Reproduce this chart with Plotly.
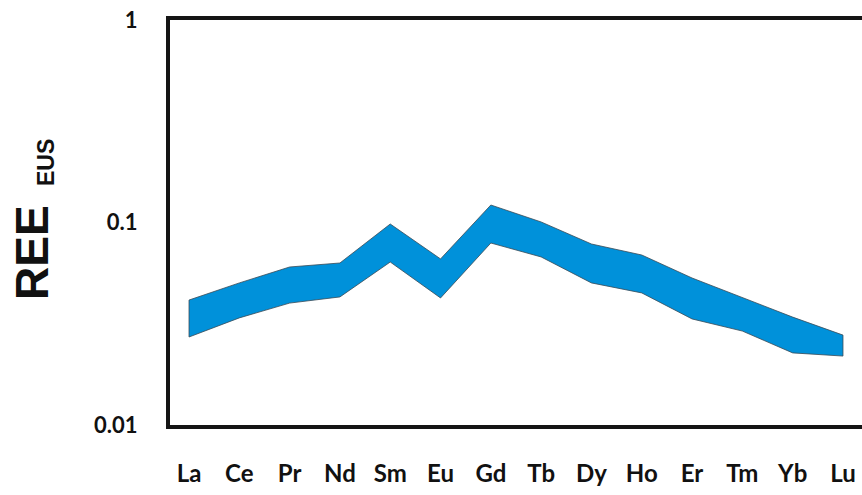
import plotly.graph_objects as go

# Rare earth elements, normalized values (upper and lower envelope of the field)
elements = ["La", "Ce", "Pr", "Nd", "Sm", "Eu", "Gd", "Tb", "Dy", "Ho", "Er", "Tm", "Yb", "Lu"]
upper = [0.0414, 0.0503, 0.0603, 0.0631, 0.0983, 0.0661, 0.122, 0.1006, 0.0783, 0.0691, 0.0532, 0.0424, 0.0341, 0.0278]
lower = [0.0272, 0.0338, 0.0400, 0.0429, 0.0638, 0.0424, 0.0792, 0.0676, 0.0503, 0.0449, 0.0334, 0.0291, 0.0227, 0.0219]
y_ticks = [0.01, 0.1, 1]
y_tick_text = ["0.01", "0.1", "1"]

idx = list(range(len(elements)))
poly_x = idx + idx[::-1] + [idx[0]]
poly_y = upper + lower[::-1] + [upper[0]]

fig = go.Figure()
fig.add_trace(go.Scatter(
    x=poly_x, y=poly_y, mode="lines", fill="toself",
    fillcolor="#0091da", line=dict(color="#3a4a55", width=0.8),
    hoverinfo="skip", showlegend=False,
))

L, R, T, B = 170, 0, 20, 70
W, H = 862, 495
fig.update_layout(
    width=W, height=H,
    margin=dict(l=L, r=R, t=T, b=B),
    plot_bgcolor="white", paper_bgcolor="white",
    showlegend=False,
    font=dict(family="Lato", color="#111111"),
)
fig.update_xaxes(
    range=[-0.378, 13.378],
    tickmode="array", tickvals=idx, ticktext=elements,
    tickfont=dict(family="Lato", size=24, color="#111111", weight="bold"),
    showgrid=False, zeroline=False,
    showline=True, linecolor="#151515", linewidth=4, mirror=True,
    ticks="", ticklabelstandoff=24,
)
fig.update_yaxes(
    type="log", range=[-2, 0],
    tickmode="array", tickvals=y_ticks, ticktext=y_tick_text,
    tickfont=dict(family="Lato", size=22, color="#111111", weight="bold"),
    showgrid=False, zeroline=False,
    showline=True, linecolor="#151515", linewidth=4, mirror=False,
    ticks="", ticklabelstandoff=24,
)

# Rotated axis title with subscript
pw = W - L - R
fig.add_annotation(
    text="<b>REE</b>", textangle=-90, showarrow=False,
    xref="paper", yref="paper",
    x=(32 - L) / pw, y=(H - B - 253) / (H - T - B),
    xanchor="center", yanchor="middle",
    font=dict(family="Liberation Sans", size=46, color="#111111"),
)
fig.add_annotation(
    text="<b>EUS</b>", textangle=-90, showarrow=False,
    xref="paper", yref="paper",
    x=(46 - L) / pw, y=(H - B - 163) / (H - T - B),
    xanchor="center", yanchor="middle",
    font=dict(family="Liberation Sans", size=23, color="#111111"),
)

fig.write_html("out.html")
